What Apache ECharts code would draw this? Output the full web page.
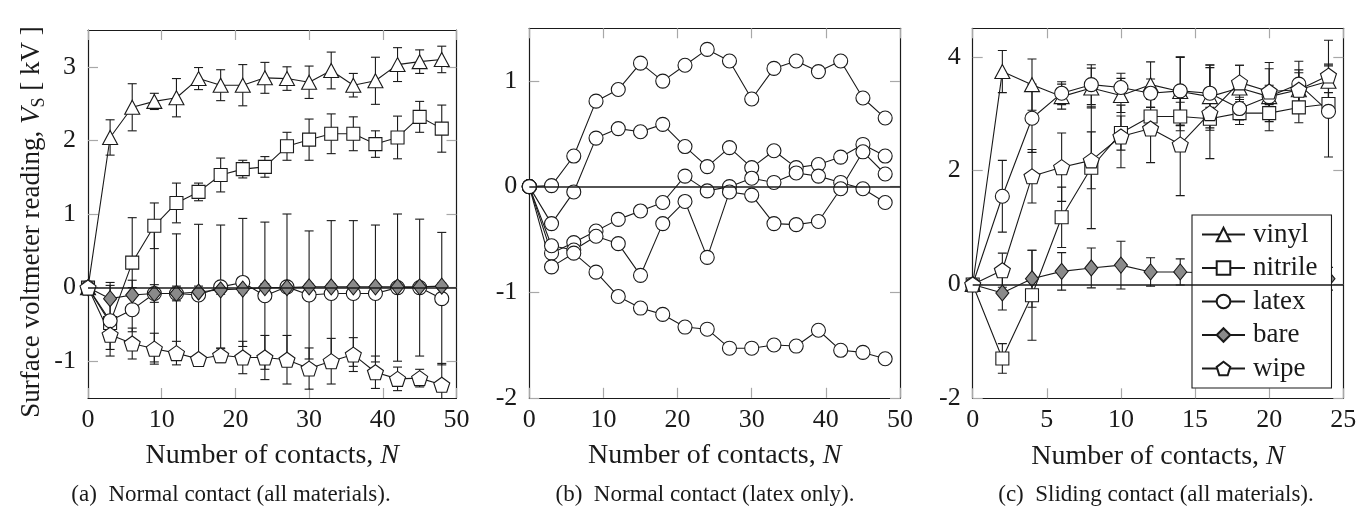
<!DOCTYPE html>
<html>
<head>
<meta charset="utf-8">
<script src="https://cdn.jsdelivr.net/npm/echarts@6/dist/echarts.min.js"></script>
<style>
  html, body { margin: 0; padding: 0; background: #fff; }
  #chart { width: 1357px; height: 517px; }
</style>
</head>
<body>
<div id="chart"></div>
<script>
// ---- contact counts ----
const contactsNormal = [0, 3, 6, 9, 12, 15, 18, 21, 24, 27, 30, 33, 36, 39, 42, 45, 48];
const contactsSliding = [0, 2, 4, 6, 8, 10, 12, 14, 16, 18, 20, 22, 24];

// ---- (a) normal contact, all materials: mean and error half-width [kV] ----
const vinylA      = [0, 2.04, 2.45, 2.53, 2.58, 2.84, 2.75, 2.75, 2.85, 2.84, 2.79, 2.95, 2.75, 2.81, 3.03, 3.07, 3.10];
const vinylAErr   = [0, 0.24, 0.32, 0.11, 0.26, 0.15, 0.21, 0.28, 0.21, 0.16, 0.22, 0.25, 0.16, 0.32, 0.23, 0.16, 0.18];
const nitrileA    = [0, -0.48, 0.34, 0.84, 1.15, 1.30, 1.53, 1.61, 1.64, 1.92, 2.01, 2.09, 2.09, 1.95, 2.04, 2.32, 2.16];
const nitrileAErr = [0, 0.10, 0.61, 0.31, 0.27, 0.12, 0.23, 0.12, 0.14, 0.19, 0.28, 0.27, 0.23, 0.18, 0.29, 0.21, 0.32];
const latexA      = [0, -0.45, -0.30, -0.08, -0.08, -0.10, 0.01, 0.07, -0.11, 0.01, -0.10, -0.08, -0.08, -0.08, 0.00, 0.00, -0.15];
const latexAErr   = [0, 0.48, 0.30, 0.93, 0.81, 0.96, 0.84, 0.87, 1.00, 0.99, 0.87, 0.99, 0.99, 0.93, 1.00, 0.93, 0.90];
const bareA       = [0, -0.15, -0.10, -0.08, -0.08, -0.06, -0.03, -0.02, 0.00, 0.00, 0.01, 0.01, 0.01, 0.01, 0.01, 0.01, 0.02];
const bareAErr    = [0, 0.22, 0.20, 0.12, 0.10, 0.08, 0.06, 0.05, 0.05, 0.05, 0.04, 0.04, 0.04, 0.04, 0.04, 0.04, 0.04];
const wipeA       = [0, -0.64, -0.76, -0.83, -0.89, -0.97, -0.92, -0.95, -0.95, -0.98, -1.10, -1.00, -0.91, -1.15, -1.24, -1.23, -1.32];
const wipeAErr    = [0, 0.20, 0.21, 0.21, 0.16, 0.05, 0.10, 0.22, 0.30, 0.33, 0.28, 0.31, 0.23, 0.22, 0.16, 0.12, 0.29];

// ---- (b) normal contact, latex only: five separate runs [kV] ----
const latexRun1 = [0, 0.01, 0.29, 0.81, 0.92, 1.17, 1.00, 1.15, 1.30, 1.19, 0.83, 1.12, 1.19, 1.09, 1.19, 0.84, 0.65];
const latexRun2 = [0, -0.35, -0.05, 0.46, 0.55, 0.52, 0.59, 0.38, 0.19, 0.37, 0.18, 0.34, 0.18, 0.21, 0.28, 0.40, 0.29];
const latexRun3 = [0, -0.63, -0.53, -0.42, -0.31, -0.23, -0.15, 0.10, -0.04, 0.00, 0.08, 0.04, 0.13, 0.10, 0.04, -0.02, -0.15];
const latexRun4 = [0, -0.56, -0.60, -0.47, -0.54, -0.84, -0.35, -0.14, -0.67, -0.05, -0.08, -0.35, -0.36, -0.33, -0.02, 0.33, 0.12];
const latexRun5 = [0, -0.76, -0.63, -0.81, -1.04, -1.15, -1.21, -1.33, -1.35, -1.53, -1.53, -1.50, -1.51, -1.36, -1.55, -1.57, -1.63];

// ---- (c) sliding contact, all materials: mean and error half-width [kV] ----
const vinylC      = [0, 3.74, 3.51, 3.30, 3.45, 3.32, 3.51, 3.39, 3.30, 3.45, 3.30, 3.42, 3.57];
const vinylCErr   = [0, 0.37, 0.45, 0.22, 0.35, 0.30, 0.40, 0.60, 0.55, 0.40, 0.60, 0.35, 0.30];
const nitrileC    = [0, -1.30, -0.19, 1.18, 2.05, 2.66, 2.95, 2.95, 2.91, 3.01, 3.01, 3.11, 3.17];
const nitrileCErr = [0, 0.26, 0.79, 0.53, 1.07, 0.30, 0.30, 0.25, 0.20, 0.20, 0.15, 0.27, 0.20];
const latexC      = [0, 1.55, 2.92, 3.36, 3.51, 3.46, 3.36, 3.40, 3.36, 3.09, 3.30, 3.52, 3.04];
const latexCErr   = [0, 0.63, 0.60, 0.20, 0.35, 0.25, 0.25, 0.60, 0.50, 0.20, 0.20, 0.40, 0.80];
const bareC       = [0, -0.15, 0.10, 0.23, 0.29, 0.34, 0.22, 0.22, 0.20, 0.18, 0.15, 0.12, 0.10];
const bareCErr    = [0, 0.30, 0.50, 0.33, 0.35, 0.42, 0.25, 0.23, 0.20, 0.20, 0.20, 0.20, 0.20];
const wipeC       = [0, 0.25, 1.90, 2.06, 2.18, 2.60, 2.74, 2.46, 3.01, 3.55, 3.39, 3.42, 3.67];
const wipeCErr    = [0, 0.30, 0.47, 0.60, 0.50, 0.55, 0.60, 0.90, 0.80, 0.30, 0.40, 0.30, 0.62];

// ---- tick labels ----
const ticksXNormal  = [0, 10, 20, 30, 40, 50];
const ticksXSliding = [0, 5, 10, 15, 20, 25];
const ticksYA = [-1, 0, 1, 2, 3];
const ticksYB = [-2, -1, 0, 1];
const ticksYC = [-2, 0, 2, 4];

const materialNames = ['vinyl', 'nitrile', 'latex', 'bare', 'wipe'];
const captions = ['(a)  Normal contact (all materials).', '(b)  Normal contact (latex only).', '(c)  Sliding contact (all materials).'];

// ---- styling ----
const FONT = '"Liberation Serif", "Times New Roman", serif';
const INK = '#1a1a1a';
const TICK = '#a8a8a8';
const PENTAGON = 'path://M0,-10 L9.511,-3.09 L5.878,8.09 L-5.878,8.09 L-9.511,-3.09 Z';

const markerStyle = {
  vinyl:   { symbol: 'triangle', size: [15, 14], fill: '#fff' },
  nitrile: { symbol: 'rect',     size: 13,       fill: '#fff' },
  latex:   { symbol: 'circle',   size: 14,       fill: '#fff' },
  bare:    { symbol: 'diamond',  size: [13, 16], fill: '#8a8a8a' },
  wipe:    { symbol: PENTAGON,   size: [16, 15], fill: '#fff' }
};

const grids = [
  { left: 88,    top: 30,   width: 368.5, height: 368 },
  { left: 529.3, top: 28.3, width: 370.7, height: 369.5 },
  { left: 972.7, top: 28.3, width: 370.6, height: 370 }
];

function axisPair(gi, dim, min, max, ticks, withLabels) {
  const positions = dim === 'x' ? ['bottom', 'top'] : ['left', 'right'];
  return positions.map((pos, k) => ({
    type: 'value', gridIndex: gi, position: pos, min, max,
    axisLine: { show: true, onZero: false, lineStyle: { color: INK, width: 1.2 } },
    axisTick: { show: true, inside: true, length: 10, customValues: ticks, lineStyle: { color: TICK, width: 1.2 } },
    axisLabel: {
      show: withLabels && k === 0, customValues: ticks, margin: dim === 'x' ? 9 : 12,
      fontFamily: FONT, fontSize: 26, color: INK
    },
    splitLine: { show: false }
  }));
}

const xAxes = [], yAxes = [];
[
  [0, 50, ticksXNormal, -1.5, 3.5, ticksYA],
  [0, 50, ticksXNormal, -2, 1.5, ticksYB],
  [0, 25, ticksXSliding, -2, 4.5, ticksYC]
].forEach(([x0, x1, xt, y0, y1, yt], gi) => {
  const xs = axisPair(gi, 'x', x0, x1, xt, true);
  xs[0].name = 'Number of contacts, {it|N}';
  xs[0].nameLocation = 'middle';
  xs[0].nameGap = 44;
  xs[0].nameTextStyle = {
    fontFamily: FONT, fontSize: 28, color: INK,
    rich: { it: { fontFamily: FONT, fontSize: 28, fontStyle: 'italic', color: INK } }
  };
  xAxes.push(...xs);
  yAxes.push(...axisPair(gi, 'y', y0, y1, yt, true));
});

function zeroLine(gi) {
  return {
    type: 'line', data: [], xAxisIndex: gi * 2, yAxisIndex: gi * 2, z: 1, silent: true,
    markLine: {
      silent: true, symbol: 'none', animation: false,
      label: { show: false },
      lineStyle: { color: INK, width: 1.7, type: 'solid' },
      data: [{ yAxis: 0 }]
    }
  };
}

function errorBars(name, xs, ys, es, gi) {
  return {
    type: 'custom', name: name + ' error', xAxisIndex: gi * 2, yAxisIndex: gi * 2,
    z: 2, clip: true, silent: true,
    data: xs.map((x, i) => [x, ys[i], es[i]]),
    encode: { x: 0, y: 1 },
    renderItem(params, api) {
      const x = api.value(0), y = api.value(1), e = api.value(2);
      if (!e) return null;
      const top = api.coord([x, y + e]);
      const bot = api.coord([x, y - e]);
      const cap = 4.5;
      const style = { stroke: INK, lineWidth: 1.1, fill: null };
      return {
        type: 'group',
        children: [
          { type: 'line', shape: { x1: top[0], y1: top[1], x2: bot[0], y2: bot[1] }, style },
          { type: 'line', shape: { x1: top[0] - cap, y1: top[1], x2: top[0] + cap, y2: top[1] }, style },
          { type: 'line', shape: { x1: bot[0] - cap, y1: bot[1], x2: bot[0] + cap, y2: bot[1] }, style }
        ]
      };
    }
  };
}

function markedLine(name, kind, xs, ys, gi) {
  const m = markerStyle[kind];
  return {
    type: 'line', name, xAxisIndex: gi * 2, yAxisIndex: gi * 2, z: 3,
    data: xs.map((x, i) => [x, ys[i]]),
    symbol: m.symbol, symbolSize: m.size, showAllSymbol: true,
    itemStyle: { color: m.fill, borderColor: INK, borderWidth: 1.1 },
    lineStyle: { color: INK, width: 1.1 },
    emphasis: { disabled: true },
    animation: false
  };
}

const series = [zeroLine(0), zeroLine(1), zeroLine(2)];

const panelA = [
  ['vinyl', vinylA, vinylAErr], ['nitrile', nitrileA, nitrileAErr], ['latex', latexA, latexAErr],
  ['bare', bareA, bareAErr], ['wipe', wipeA, wipeAErr]
];
const panelC = [
  ['vinyl', vinylC, vinylCErr], ['nitrile', nitrileC, nitrileCErr], ['latex', latexC, latexCErr],
  ['bare', bareC, bareCErr], ['wipe', wipeC, wipeCErr]
];
panelA.forEach(([n, v, e]) => series.push(errorBars(n, contactsNormal, v, e, 0)));
panelC.forEach(([n, v, e]) => series.push(errorBars(n, contactsSliding, v, e, 2)));
panelA.forEach(([n, v]) => series.push(markedLine(n, n, contactsNormal, v, 0)));
[latexRun1, latexRun2, latexRun3, latexRun4, latexRun5].forEach((v, i) =>
  series.push(markedLine('latex run ' + (i + 1), 'latex', contactsNormal, v, 1)));
panelC.forEach(([n, v]) => series.push(markedLine(n, n, contactsSliding, v, 2)));

const captionX = [231, 705, 1156];

const option = {
  animation: false,
  backgroundColor: '#fff',
  grid: grids.map(g => Object.assign({ outerBoundsMode: 'none', containLabel: false }, g)),
  xAxis: xAxes,
  yAxis: yAxes,
  legend: {
    data: materialNames,
    orient: 'vertical',
    left: 1192, top: 215,
    padding: [6, 14, 6, 9],
    itemWidth: 43, itemHeight: 17, itemGap: 6.5,
    backgroundColor: '#fff',
    borderColor: INK, borderWidth: 1.1, borderRadius: 0,
    textStyle: { fontFamily: FONT, fontSize: 27, color: INK, lineHeight: 26, padding: [0, 0, 0, 3] },
    selectedMode: false
  },
  graphic: [
    {
      type: 'text', x: 32, y: 222, rotation: Math.PI / 2,
      style: {
        text: 'Surface voltmeter reading, {it|V}{sub|S} [ kV ]',
        fontFamily: FONT, fontSize: 27, fill: INK,
        align: 'center', verticalAlign: 'middle',
        rich: {
          it: { fontFamily: FONT, fontSize: 27, fontStyle: 'italic', lineHeight: 32 },
          sub: { fontFamily: FONT, fontSize: 18, lineHeight: 18, verticalAlign: 'bottom' }
        }
      }
    }
  ].concat(captions.map((t, i) => ({
    type: 'text', x: captionX[i], y: 495,
    style: { text: t, fontFamily: FONT, fontSize: 23, fill: INK, align: 'center', verticalAlign: 'middle' }
  }))),
  series
};

const chart = echarts.init(document.getElementById('chart'), null, { renderer: 'canvas' });
chart.setOption(option);
</script>
</body>
</html>
